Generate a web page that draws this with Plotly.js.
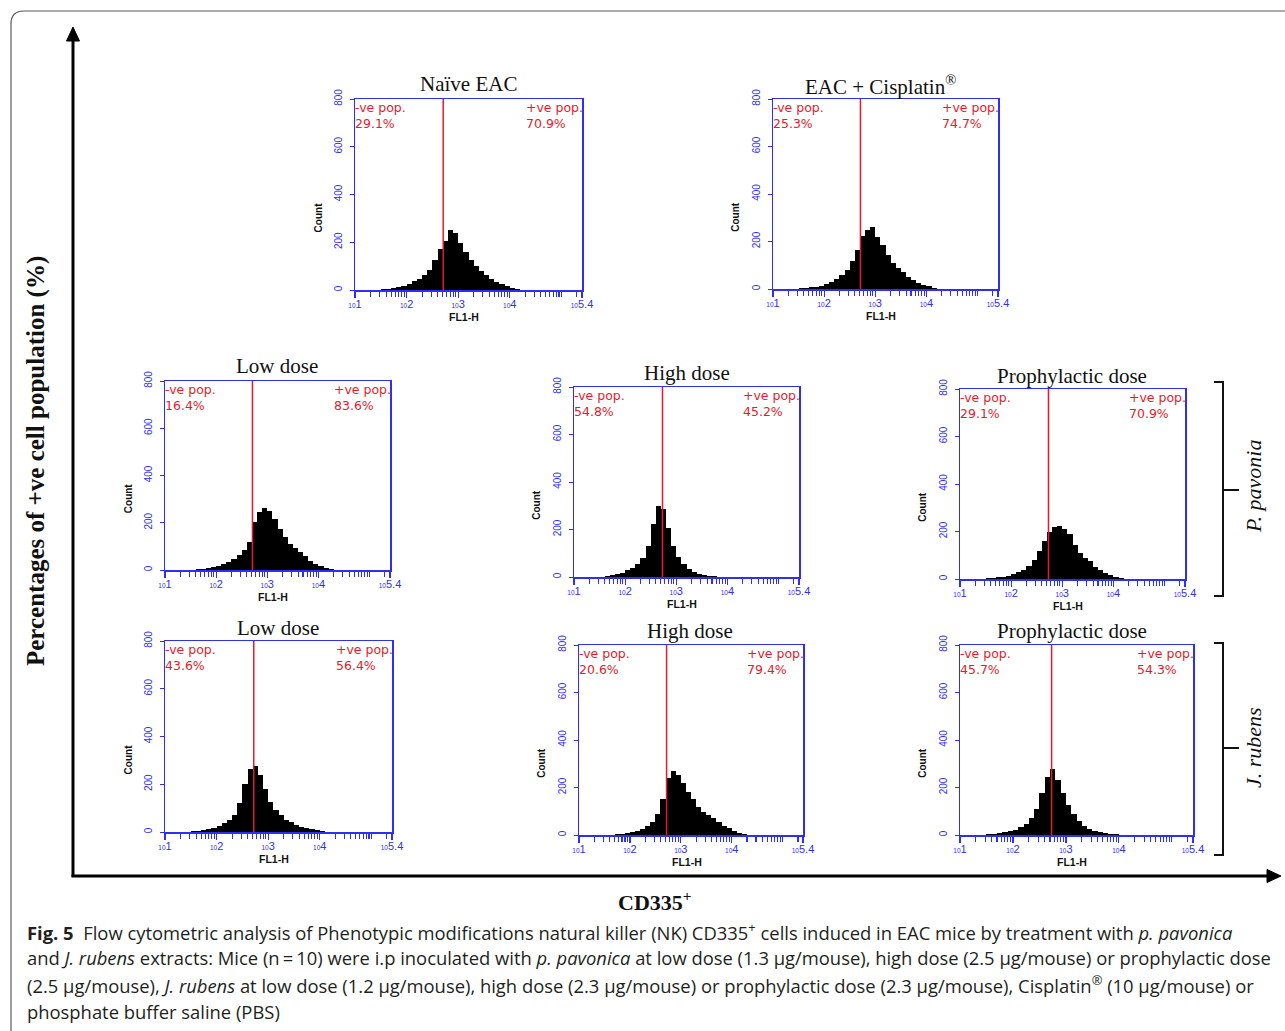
<!DOCTYPE html>
<html>
<head>
<meta charset="utf-8">
<script src="https://cdn.plot.ly/plotly-3.0.1.min.js"></script>
<style>html,body{margin:0;padding:0;background:#fff;}#chart{width:1285px;height:1031px;}</style>
</head>
<body>
<div id="chart"></div>
<script>
// ---------------- DATA ----------------
// histogram bin centres on log10(FL1-H) scale
const binCenters = [1.05,1.15,1.25,1.35,1.45,1.55,1.65,1.75,1.85,1.95,
                    2.05,2.15,2.25,2.35,2.45,2.55,2.65,2.75,2.85,2.95,
                    3.05,3.15,3.25,3.35,3.45,3.55,3.65,3.75,3.85,3.95,
                    4.05,4.15,4.25,4.35,4.45,4.55,4.65,4.75,4.85,4.95,
                    5.05,5.15,5.25,5.35];
const naiveEAC     = [0,0,0,0,2,3,5,8,12,18, 25,38,45,62,85,125,170,205,250,240, 195,158,125,100,80,62,45,33,24,18, 10,5,1,0,0,0,0,0,0,0, 0,0,0,0];
const eacCisplatin = [0,0,0,0,2,3,5,7,10,14, 22,30,42,58,78,120,165,225,250,262, 220,185,145,110,88,70,50,36,26,17, 11,6,2,0,0,0,0,0,0,0, 0,0,0,0];
const pavLow       = [0,0,0,0,0,2,4,6,9,13, 17,24,32,45,65,85,120,205,245,262, 250,215,175,140,110,92,78,58,40,25, 16,8,3,0,0,0,0,0,0,0, 0,0,0,0];
const pavHigh      = [0,0,0,0,0,2,4,7,12,18, 28,40,55,80,130,225,300,285,205,130, 85,55,33,20,13,9,6,4,2,1, 0,0,0,0,0,0,0,0,0,0, 0,0,0,0];
const pavProph     = [0,0,0,0,2,3,5,7,10,13, 20,28,40,55,80,120,160,200,220,222, 212,188,145,110,90,75,50,36,25,16, 10,5,2,0,0,0,0,0,0,0, 0,0,0,0];
const rubLow       = [0,0,0,0,1,3,5,8,12,18, 26,38,50,72,120,200,262,275,240,180, 125,92,70,52,40,30,22,16,11,7, 4,1,0,0,0,0,0,0,0,0, 0,0,0,0];
const rubHigh      = [0,0,0,0,0,0,2,4,6,9, 12,17,24,36,55,90,150,240,270,252, 218,182,152,118,98,85,72,56,40,28, 18,10,4,1,0,0,0,0,0,0, 0,0,0,0];
const rubProph     = [0,0,0,1,2,4,6,9,12,16, 22,32,48,72,110,175,245,278,230,175, 125,88,58,38,26,18,13,8,5,3, 1,0,0,0,0,0,0,0,0,0, 0,0,0,0];

const panelTitles = ["Naïve EAC","EAC + Cisplatin<sup>®</sup>","Low dose","High dose","Prophylactic dose","Low dose","High dose","Prophylactic dose"];
const negPct = ["29.1%","25.3%","16.4%","54.8%","29.1%","43.6%","20.6%","45.7%"];
const posPct = ["70.9%","74.7%","83.6%","45.2%","70.9%","56.4%","79.4%","54.3%"];
const gateLog = [2.71,2.71,2.71,2.73,2.73,2.72,2.72,2.73];   // marker gate position (log10)
const yTickVals = [0,200,400,600,800];
const xTickVals = [1,2,3,4,5.4];
const xTickExp  = ["1","2","3","4","5.4"];
const speciesLabels = ["P. pavonia","J. rubens"];

const series = [naiveEAC,eacCisplatin,pavLow,pavHigh,pavProph,rubLow,rubHigh,rubProph];

// ---------------- LAYOUT GEOMETRY (pixels) ----------------
const W = 1285, H = 1031;
const PX = x => x / W;
const PY = y => 1 - y / H;
// [left, right, top, bottom] of each plot box
const boxes = [[355,582,99,290],[773,998,99,289],[165,390,381,570],[574,799,387,577],
               [960,1185,389,579],[165,392,641,832],[579,803,645,835],[960,1193,645,835]];
const titlePos = [[468,84],[880,86],[277,366],[687,373],[1072,376],[278,628],[690,631],[1072,631]];

const BLUE = "#2e2ef5";
const RED = "#e8192c";

const minorVals = [];
for (let n = 1; n <= 5; n++) {
  for (let k = 1; k <= 9; k++) {
    if (k === 1 && n < 5) continue;
    const v = n + Math.log10(k);
    if (v < 5.39) minorVals.push(v);
  }
}
const xTickText = xTickExp.map(e => "<span style='font-size:6.5px'>10</span>" + e);

const traces = [];
const layout = {
  width: W, height: H,
  margin: {l:0, r:0, t:0, b:0},
  paper_bgcolor: "#ffffff",
  plot_bgcolor: "rgba(0,0,0,0)",
  showlegend: false,
  bargap: 0,
  font: {family: "Liberation Sans, Arial, sans-serif", color: "#000"},
  annotations: [],
  shapes: []
};

function ann(o) {
  return Object.assign({showarrow: false, xanchor: "center", yanchor: "middle"}, o);
}

series.forEach((vals, i) => {
  const n = i + 1;
  const xa = n === 1 ? "x" : "x" + n;
  const ya = n === 1 ? "y" : "y" + n;
  const b = boxes[i];
  traces.push({
    type: "bar", x: binCenters, y: vals, width: 0.1,
    xaxis: xa, yaxis: ya,
    marker: {color: "#000", line: {width: 0}},
    hoverinfo: "skip"
  });
  const xKey = n === 1 ? "xaxis" : "xaxis" + n;
  const yKey = n === 1 ? "yaxis" : "yaxis" + n;
  layout[xKey] = {
    domain: [PX(b[0]), PX(b[1])], anchor: ya,
    range: [1, 5.4], showgrid: false, zeroline: false,
    showline: true, linecolor: BLUE, linewidth: 1.5, mirror: true,
    ticks: "outside", ticklen: 6, tickwidth: 1.2, tickcolor: BLUE,
    tickmode: "array", tickvals: xTickVals, ticktext: xTickText,
    ticklabelstandoff: -3,
    tickfont: {color: BLUE, size: 11, family: "Liberation Sans, Arial"},
    minor: {tickmode: "array", tickvals: minorVals, ticks: "outside", ticklen: 5, tickwidth: 1.1, tickcolor: BLUE, showgrid: false},
    fixedrange: true
  };
  layout[yKey] = {
    domain: [PY(b[3]), PY(b[2])], anchor: xa,
    range: [0, 800], showgrid: false, zeroline: false,
    showline: true, linecolor: BLUE, linewidth: 1.5, mirror: true,
    ticks: "outside", ticklen: 4, tickcolor: BLUE,
    tickmode: "array", tickvals: yTickVals, tickangle: -90,
    ticklabelstandoff: 4,
    tickfont: {color: BLUE, size: 10, family: "Liberation Sans, Arial"},
    fixedrange: true
  };
  // gate line
  layout.shapes.push({type: "line", xref: xa, yref: ya + " domain", x0: gateLog[i], x1: gateLog[i], y0: 0, y1: 1,
    line: {color: RED, width: 1.5}});
  // texts
  const popFont = {family: "DejaVu Sans, Verdana, sans-serif", size: 12.5, color: RED};
  const xd = xa + " domain", yd = ya + " domain";
  layout.annotations.push(
    ann({xref: xd, yref: yd, x: 0, y: 1, xanchor: "left", yanchor: "top", align: "left", yshift: 0, xshift: -1, borderpad: 0,
         text: "-ve pop.<br>" + negPct[i], font: popFont}),
    ann({xref: xd, yref: yd, x: 1, y: 1, xanchor: "right", yanchor: "top", align: "left", yshift: 0, xshift: 2, borderpad: 0,
         text: "+ve pop.<br>" + posPct[i], font: popFont}),
    ann({xref: xd, yref: yd, x: 0, y: 0.38, xshift: -37, textangle: -90, text: "<b>Count</b>",
     font: {family: "Liberation Sans, Arial", size: 10, color: "#111"}}),
    ann({xref: xd, yref: yd, x: 0.48, y: 0, yshift: -27, text: "<b>FL1-H</b>",
     font: {family: "Liberation Sans, Arial", size: 10.5, color: "#111"}}),
    ann({xref: "paper", yref: "paper", x: PX(titlePos[i][0]), y: PY(titlePos[i][1]), text: panelTitles[i],
     font: {family: "Liberation Serif, Times New Roman, serif", size: 21, color: "#111"}})
  );
});

// --------- outer decorations ---------
// rounded frame
layout.shapes.push({type: "path", xref: "paper", yref: "paper",
  path: `M ${PX(11)},${PY(1045)} L ${PX(11)},${PY(24)} Q ${PX(11)},${PY(11)} ${PX(24)},${PY(11)} L ${PX(1300)},${PY(11)}`,
  line: {color: "#5a5a5a", width: 1.2}});
// big axes arrows
layout.shapes.push({type: "line", xref: "paper", yref: "paper", x0: PX(73), x1: PX(73), y0: PY(877), y1: PY(38), line: {color: "#000", width: 3}});
layout.shapes.push({type: "path", xref: "paper", yref: "paper", path: `M ${PX(73)},${PY(27)} L ${PX(66.5)},${PY(41)} L ${PX(79.5)},${PY(41)} Z`, fillcolor: "#000", line: {color: "#000", width: 1}});
layout.shapes.push({type: "line", xref: "paper", yref: "paper", x0: PX(71.5), x1: PX(1268), y0: PY(876), y1: PY(876), line: {color: "#000", width: 3}});
layout.shapes.push({type: "path", xref: "paper", yref: "paper", path: `M ${PX(1281)},${PY(876)} L ${PX(1267)},${PY(869.5)} L ${PX(1267)},${PY(882.5)} Z`, fillcolor: "#000", line: {color: "#000", width: 1}});
// brackets
function bracket(top, bottom, mid) {
  return `M ${PX(1214)},${PY(top)} L ${PX(1223)},${PY(top)} L ${PX(1223)},${PY(bottom)} L ${PX(1214)},${PY(bottom)} M ${PX(1223)},${PY(mid)} L ${PX(1239)},${PY(mid)}`;
}
layout.shapes.push({type: "path", xref: "paper", yref: "paper", path: bracket(382, 596, 490), line: {color: "#111", width: 2}});
layout.shapes.push({type: "path", xref: "paper", yref: "paper", path: bracket(643, 855, 748), line: {color: "#111", width: 2}});

layout.annotations.push(
  ann({xref: "paper", yref: "paper", x: PX(1253), y: PY(487), textangle: -90, text: "<i>" + speciesLabels[0] + "</i>",
   font: {family: "Liberation Serif, Times New Roman, serif", size: 22, color: "#111"}}),
  ann({xref: "paper", yref: "paper", x: PX(1253), y: PY(748), textangle: -90, text: "<i>" + speciesLabels[1] + "</i>",
   font: {family: "Liberation Serif, Times New Roman, serif", size: 22, color: "#111"}}),
  ann({xref: "paper", yref: "paper", x: PX(36), y: PY(461), textangle: -90, text: "<b>Percentages of +ve cell population (%)</b>",
   font: {family: "Liberation Serif, Times New Roman, serif", size: 25, color: "#111"}}),
  ann({xref: "paper", yref: "paper", x: PX(655), y: PY(901), text: "<b>CD335<sup>+</sup></b>",
   font: {family: "Liberation Serif, Times New Roman, serif", size: 22, color: "#111"}})
);

// caption
const capFont = {family: "Open Sans, Noto Sans, sans-serif", size: 18.4, color: "#231f20"};
const captionLines = [
  "<b>Fig. 5</b>\u00a0\u00a0Flow cytometric analysis of Phenotypic modifications natural killer (NK) CD335<sup>+</sup> cells induced in EAC mice by treatment with <i>p. pavonica</i>",
  "and <i>J. rubens</i> extracts: Mice (n\u2009=\u200910) were i.p inoculated with <i>p. pavonica</i> at low dose (1.3 µg/mouse), high dose (2.5 µg/mouse) or prophylactic dose",
  "(2.5 µg/mouse), <i>J. rubens</i> at low dose (1.2 µg/mouse), high dose (2.3 µg/mouse) or prophylactic dose (2.3 µg/mouse), Cisplatin<sup>®</sup> (10 µg/mouse) or",
  "phosphate buffer saline (PBS)"
];
const capY = [931, 957, 984, 1011];
captionLines.forEach((t, k) => {
  layout.annotations.push(ann({xref: "paper", yref: "paper", x: PX(25), y: PY(capY[k]), xanchor: "left",
    text: t, font: capFont}));
});

Plotly.newPlot("chart", traces, layout, {staticPlot: true, displayModeBar: false});
</script>
</body>
</html>
